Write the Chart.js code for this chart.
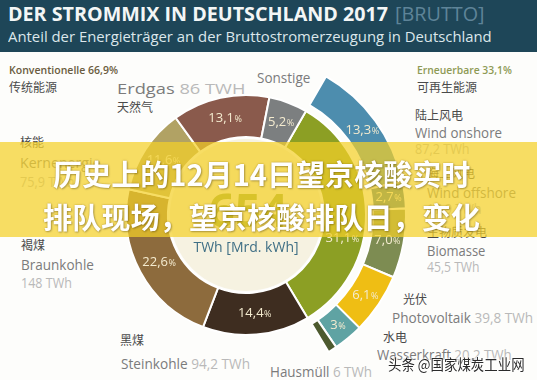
<!DOCTYPE html>
<html><head><meta charset="utf-8">
<script src="https://cdn.jsdelivr.net/npm/chart.js@4.4.0/dist/chart.umd.min.js"></script>
<style>
html,body{margin:0;padding:0}
body{width:537px;height:380px;overflow:hidden;background:#fdfdfb;position:relative;font-family:'Open Sans',sans-serif}
#hdr{position:absolute;left:0;top:0;width:537px;height:52px;background:#1e4658}
#wrap{position:absolute;left:0;top:0;width:537px;height:380px}
#labels,#top{position:absolute;left:0;top:0;width:537px;height:380px}
.l{position:absolute;white-space:nowrap;line-height:1.15;transform-origin:0 50%}
#band{position:absolute;left:0;top:142px;width:537px;height:95px;background:rgba(244,208,40,0.72)}
</style></head><body>
<div id="hdr"></div>
<div id="labels"></div>
<div id="wrap"><canvas id="c" width="537" height="380"></canvas></div>
<div id="band"></div>
<div id="top"></div>
<script>
// ---------- DATA ----------
const mainLabels = ['Erneuerbare', 'Steinkohle', 'Braunkohle', 'Kernenergie', 'Erdgas', 'Sonstige'];
const mainZh     = ['可再生能源', '黑煤', '褐煤', '核能', '天然气', ''];
const mainShares = [33.1, 14.4, 22.6, 11.6, 13.1, 5.2];
const mainPctText = ['31,1', '14,4', '22,6', '11,6', '13,1', '5,2'];
const mainTWh    = ['216,6 TWh', '94,2 TWh', '148 TWh', '75,9 TWh', '86 TWH', ''];

const renewLabels = ['Wind onshore', 'Wind offshore', 'Biomasse', 'Photovoltaik', 'Wasserkraft', 'Hausmüll'];
const renewZh     = ['陆上风电', '海上风电', '生物质发电', '光伏', '水电', ''];
const renewShares = [13.3, 2.7, 7.0, 6.1, 3.0, 0.9];
const renewPctText = ['13,3', '2,7', '7,0', '6,1', '3', ''];
const renewTWh    = ['87,2 TWh', '17,9 TWh', '45,5 TWh', '39,8 TWh', '20,2 TWh', '6 TWh'];

const conventionalShare = 66.9;
const totalTWh = '654';
const groupConv = 'Konventionelle 66,9%';
const groupConvZh = '传统能源';
const groupRenew = 'Erneuerbare 33,1%';
const groupRenewZh = '可再生能源';

// ---------- STYLE ----------
const mainColors  = ['#8c9f24', '#3e2d20', '#8d6b3d', '#b1a264', '#8a5a4c', '#7c7f80'];
const renewColors = ['#4d8dae', '#3c6f8c', '#7d8c52', '#efbe14', '#5fa3a3', '#4d5a2f'];

function addText(parent, parts, x, y, size, opts) {
  opts = opts || {};
  const d = document.createElement('div');
  d.className = 'l';
  parts.forEach(p => { const s = document.createElement('span'); s.textContent = p[0]; s.style.color = p[1]; d.appendChild(s); });
  d.style.left = x + 'px';
  d.style.fontSize = size + 'px';
  d.style.fontWeight = opts.weight || 400;
  if (opts.family) d.style.fontFamily = opts.family;
  if (opts.shadow) d.style.textShadow = opts.shadow;
  parent.appendChild(d);
  d.style.top = (y - d.offsetHeight / 2) + 'px';
  if (opts.w) { d.style.transform = 'scaleX(' + (opts.w / d.offsetWidth) + ')'; }
  if (opts.center) { d.style.left = (x - d.offsetWidth / 2) + 'px'; }
  return d;
}
const L = document.getElementById('labels');
const H = document.getElementById('hdr');
const T = document.getElementById('top');
const zh = "'Noto Sans CJK SC',sans-serif";
const grey = '#7b7b7b', light = '#b9b9b9', dark = '#4a4a4a';

// header
addText(H, [['DER STROMMIX IN DEUTSCHLAND 2017', '#f3f6f6']], 8, 13, 20, {weight: 700, w: 380});
addText(H, [['[BRUTTO]', '#5e8498']], 395, 13, 20, {weight: 400, w: 90});
addText(H, [['Anteil der Energieträger an der Bruttostromerzeugung in Deutschland', '#dce7eb']], 8, 37, 14, {w: 484});

// group headers
addText(L, [[groupConv, '#6a5c40']], 9, 70, 11, {weight: 600, w: 109});
addText(L, [[groupConvZh, dark]], 9, 87, 12, {family: zh});
addText(L, [[groupRenew, '#8e9a55']], 417, 70, 11, {weight: 600, w: 95});
addText(L, [[groupRenewZh, dark]], 417, 87, 12, {family: zh});

// conventional labels
addText(L, [[mainLabels[4], grey], [' ' + mainTWh[4], light]], 117, 88, 15, {w: 128});
addText(L, [[mainZh[4], dark]], 117, 107, 12, {family: zh});
addText(L, [[mainZh[3], dark]], 20, 142, 12, {family: zh});
addText(L, [[mainLabels[3], grey]], 20, 162, 15, {w: 80});
addText(L, [[mainTWh[3], light]], 20, 182, 14, {w: 55});
addText(L, [[mainZh[2], dark]], 21, 245, 12, {family: zh});
addText(L, [[mainLabels[2], grey]], 21, 264, 15, {w: 73});
addText(L, [[mainTWh[2], light]], 21, 283, 14, {w: 51});
addText(L, [[mainZh[1], dark]], 120, 340, 12, {family: zh});
addText(L, [[mainLabels[1], grey], [' ' + mainTWh[1], light]], 121, 363, 15, {w: 129});
addText(L, [[mainLabels[5], grey]], 257, 78, 14, {w: 53});
addText(L, [[renewLabels[5], grey], [' ' + renewTWh[5], light]], 270, 371, 15, {w: 102});

// renewable labels
addText(L, [[renewZh[0], dark]], 415, 115, 12, {family: zh});
addText(L, [[renewLabels[0], grey]], 415, 132, 15, {w: 87});
addText(L, [[renewTWh[0], light]], 415, 149, 14, {w: 55});
addText(L, [[renewZh[1], dark]], 427, 173, 12, {family: zh});
addText(L, [[renewLabels[1], grey]], 427, 192, 15, {w: 89});
addText(L, [[renewTWh[1], light]], 427, 209, 14, {w: 55});
addText(L, [[renewZh[2], dark]], 427, 232, 12, {family: zh});
addText(L, [[renewLabels[2], grey]], 427, 250, 15, {w: 58});
addText(L, [[renewTWh[2], light]], 427, 267, 14, {w: 53});
addText(L, [[renewZh[3], dark]], 403, 299, 12, {family: zh});
addText(L, [[renewLabels[3], grey], [' ' + renewTWh[3], light]], 392, 317, 15, {w: 141});
addText(L, [[renewZh[4], dark]], 383, 337, 12, {family: zh});
addText(L, [[renewLabels[4], grey], [' ' + renewTWh[4], light]], 377, 354, 15, {w: 135});

// overlay headline + watermark
const hl = '0 0 2px rgba(120,90,0,0.55), 1px 1px 2px rgba(0,0,0,0.25)';
addText(T, [['历史上的12月14日望京核酸实时', '#ffffff']], 53, 173, 29, {weight: 700, family: zh, w: 417, shadow: hl});
addText(T, [['排队现场，望京核酸排队日，变化', '#ffffff']], 43, 216, 29, {weight: 700, family: zh, w: 437, shadow: hl});
addText(T, [['头条 @国家煤炭工业网', '#2b2b2b']], 388, 363, 15, {family: zh, w: 137, shadow: '0 0 2px #fff, 0 0 2px #fff, 0 0 3px #fff'});

// ---------- CHART ----------
const pctFrac = {0: [0.5, 0.5, 0.5, 0.5, 0.5, 0.5], 2: [0.62, 0.5, 0.5, 0.5, 0.5, 0.5]};
const centerPlugin = {
  id: 'center',
  beforeDatasetsDraw(chart) {
    const el = chart.getDatasetMeta(2).data[0];
    const p = el.getProps(['x', 'y', 'innerRadius']);
    const c = chart.ctx;
    c.save();
    c.beginPath(); c.arc(p.x, p.y, p.innerRadius - 2, 0, Math.PI * 2);
    c.fillStyle = '#f6f2e1'; c.fill();
    c.textAlign = 'center';
    c.font = "700 46px 'Open Sans'";
    c.fillStyle = '#8fa030';
    c.fillText(totalTWh, p.x + 2, p.y + 12);
    c.font = "14px 'Open Sans'";
    c.fillStyle = '#3f6f85';
    c.fillText('TWh [Mrd. kWh]', p.x, p.y + 37);
    c.restore();
  }
};
const pctPlugin = {
  id: 'pct',
  afterDatasetsDraw(chart) {
    const c = chart.ctx;
    [[0, renewPctText], [2, mainPctText]].forEach(([di, texts]) => {
      chart.getDatasetMeta(di).data.forEach((el, i) => {
        const t = texts[i];
        if (!t) return;
        const p = el.getProps(['x', 'y', 'startAngle', 'endAngle', 'innerRadius', 'outerRadius']);
        const f = pctFrac[di][i];
        const a = p.startAngle + (p.endAngle - p.startAngle) * f;
        const r = (p.innerRadius + p.outerRadius) / 2;
        const x = p.x + Math.cos(a) * r, y = p.y + Math.sin(a) * r;
        c.save();
        c.fillStyle = '#f4ebcf';
        c.textBaseline = 'middle';
        c.font = "13px 'Open Sans'";
        const w1 = c.measureText(t).width;
        c.font = "9px 'Open Sans'";
        const w2 = c.measureText('%').width;
        const x0 = x - (w1 + w2) / 2;
        c.font = "13px 'Open Sans'";
        c.fillText(t, x0, y);
        c.font = "9px 'Open Sans'";
        c.fillText('%', x0 + w1 + 0.5, y + 1);
        c.restore();
      });
    });
  }
};

new Chart(document.getElementById('c'), {
  type: 'doughnut',
  data: {
    labels: renewLabels.concat(['Konventionelle']),
    datasets: [
      {data: renewShares.concat([conventionalShare]), backgroundColor: renewColors.concat(['rgba(0,0,0,0)']),
       borderColor: '#ffffff', borderWidth: [2, 2, 2, 2, 2, 2, 0], weight: 33},
      {data: [100], backgroundColor: 'rgba(0,0,0,0)', borderWidth: 0, weight: 7},
      {data: mainShares, backgroundColor: mainColors, borderColor: '#ffffff', borderWidth: 2, weight: 42}
    ]
  },
  options: {
    responsive: false, animation: false, devicePixelRatio: 1, events: [],
    rotation: 30, cutout: 78,
    layout: {padding: {left: 85, right: 130, top: 54, bottom: 4}},
    plugins: {legend: {display: false}, tooltip: {enabled: false}}
  },
  plugins: [centerPlugin, pctPlugin]
});
</script>
</body></html>
